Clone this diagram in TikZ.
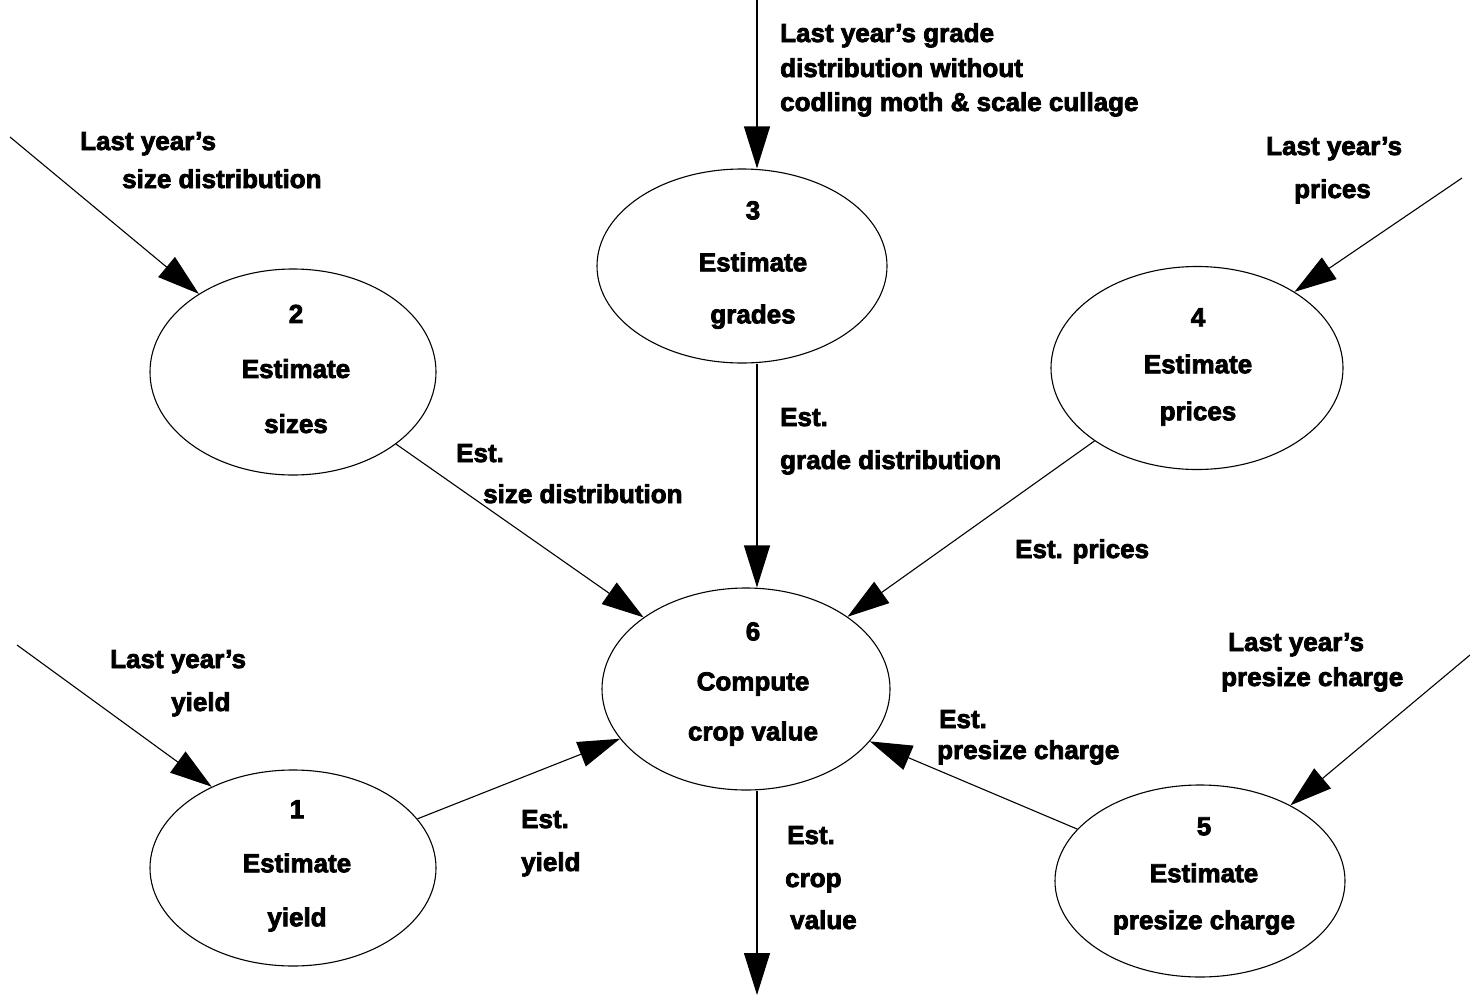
\documentclass[tikz,border=0pt]{standalone}
\usepackage{fontspec}
\setmainfont{Liberation Sans}[BoldFeatures={FakeBold=3}]
\usetikzlibrary{shapes.geometric,arrows.meta}
\begin{document}
\begin{tikzpicture}[x=1pt,y=-1pt,
  proc/.style={ellipse,draw,line width=1.1pt,inner sep=0pt},
  ptext/.style={inner sep=0pt,align=center,font=\fontsize{26}{#1}\selectfont\bfseries},
  lbl/.style={anchor=base west,inner sep=0pt,font=\fontsize{26}{31}\selectfont\bfseries},
  flow/.style={line width=1.1pt,-{Triangle[length=42pt,width=26pt]}},
]
\useasboundingbox (0,0) rectangle (1470,996);

% processes
\node[proc,minimum width=286pt,minimum height=196pt] (n1) at (293,868) {};
\node[proc,minimum width=286pt,minimum height=206pt] (n2) at (293,372) {};
\node[proc,minimum width=290pt,minimum height=194pt] (n3) at (742,266) {};
\node[proc,minimum width=292pt,minimum height=203pt] (n4) at (1197,368) {};
\node[proc,minimum width=290pt,minimum height=192pt] (n5) at (1200,881) {};
\node[proc,minimum width=288pt,minimum height=202pt] (n6) at (746,689) {};

% process numbers and names
\node[ptext=54] (t1) at (297,866) {1\\Estimate\\yield};
\node[ptext=55] (t2) at (296,369) {2\\Estimate\\sizes};
\node[ptext=52] (t3) at (753,265) {3\\Estimate\\grades};
\node[ptext=47] (t4) at (1198,367) {4\\Estimate\\prices};
\node[ptext=47] (t5) at (1204,876) {5\\Estimate\\presize charge};
\node[ptext=50] (t6) at (753,684) {6\\Compute\\crop value};

% free ends of the external flows
\coordinate (s1) at (17,645);
\coordinate (s2) at (10,137);
\coordinate (s3) at (757,0);
\coordinate (s4) at (1462,178);
\coordinate (s5) at (1470,655);
\coordinate (out) at (757,995);

% external inputs
\draw[flow] (s1) -- (n1.135);
\draw[flow] (s2) -- (n2);
\draw[flow] (s3) -- (s3 |- n3.north);
\draw[flow] (s4) -- (n4.38);
\draw[flow] (s5) -- (n5);

% estimates flowing into the crop value computation
\draw[flow] (n1) -- (n6);
\draw[flow] (n2) -- (n6);
\draw[flow] (n3.south -| s3) -- (n6.north -| s3);
\draw[flow] (n4) -- (n6);
\draw[flow] (n5) -- (n6);
\draw[flow] (n6.south -| s3) -- (out);

% data labels
\node[lbl] (l2a) at (80,150) {Last year's};
\node[lbl] (l2b) at (122,188) {size distribution};
\node[lbl] (l3a) at (780,42) {Last year's grade};
\node[lbl] (l3b) at (780,77) {distribution without};
\node[lbl] (l3c) at (780,111) {codling moth \& scale cullage};
\node[lbl] (l4a) at (1266,155) {Last year's};
\node[lbl] (l4b) at (1294,198) {prices};
\node[lbl] (e2a) at (456,462) {Est.};
\node[lbl] (e2b) at (483,503) {size distribution};
\node[lbl] (e3a) at (780,426) {Est.};
\node[lbl] (e3b) at (780,469) {grade distribution};
\node[lbl] (e4) at (1015,558) {Est. prices};
\node[lbl] (l1a) at (110,668) {Last year's};
\node[lbl] (l1b) at (171,711) {yield};
\node[lbl] (e1a) at (521,828) {Est.};
\node[lbl] (e1b) at (521,871) {yield};
\node[lbl] (e5a) at (939,728) {Est.};
\node[lbl] (e5b) at (937,759) {presize charge};
\node[lbl] (l5a) at (1228,651) {Last year's};
\node[lbl] (l5b) at (1221,686) {presize charge};
\node[lbl] (e6a) at (787,844) {Est.};
\node[lbl] (e6b) at (785,887) {crop};
\node[lbl] (e6c) at (790,929) {value};
\end{tikzpicture}
\end{document}
